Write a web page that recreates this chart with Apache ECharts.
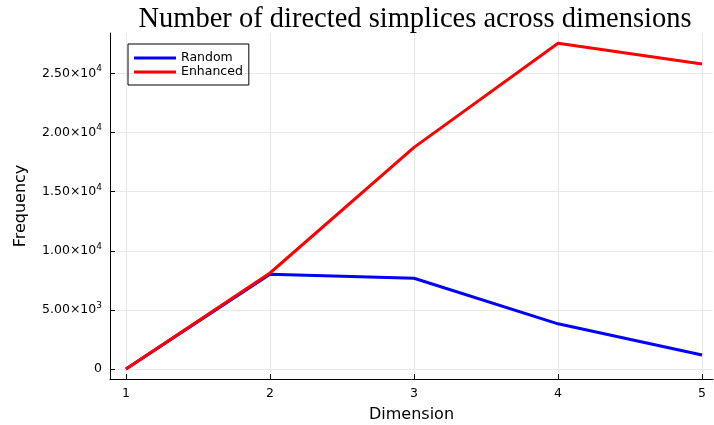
<!DOCTYPE html>
<html>
<head>
<meta charset="utf-8">
<script src="https://cdn.jsdelivr.net/npm/echarts@6/dist/echarts.min.js"></script>
<style>
html, body { margin: 0; padding: 0; background: #fff; }
#main { width: 714px; height: 425px; }
</style>
</head>
<body>
<div id="main"></div>
<script>
var dimensions = [1, 2, 3, 4, 5];
var randomCounts = [0, 8020, 7680, 3820, 1180];
var enhancedCounts = [0, 8120, 18750, 27570, 25800];
var yTicks = [0, 5000, 10000, 15000, 20000, 25000];

function pairs(xs, ys) {
    return xs.map(function (x, i) { return [x, ys[i]]; });
}

function yLabel(v) {
    if (v === 0) return '0';
    var exp = Math.floor(Math.log10(v));
    var mant = (v / Math.pow(10, exp)).toFixed(2);
    return mant + '×10{sup|' + exp + '}';
}

var myChart = echarts.init(document.getElementById('main'));
var option = {
    backgroundColor: '#fff',
    animation: false,
    title: {
        text: 'Number of directed simplices across dimensions',
        left: 410,
        textAlign: 'center',
        top: 0,
        textStyle: {
            fontFamily: 'Liberation Serif',
            fontWeight: 'normal',
            fontSize: 28.5,
            color: '#000'
        }
    },
    legend: {
        orient: 'vertical',
        left: 128,
        top: 44,
        padding: [7, 6, 6, 6],
        itemGap: 0,
        itemWidth: 42,
        itemHeight: 3,
        icon: 'rect',
        borderColor: '#000',
        borderWidth: 1,
        borderRadius: 0,
        textStyle: {
            fontFamily: 'DejaVu Sans',
            fontSize: 12.5,
            lineHeight: 14,
            color: '#000'
        },
        data: ['Random', 'Enhanced']
    },
    grid: {
        left: 110,
        right: 1,
        top: 33,
        bottom: 46,
        outerBoundsMode: 'none'
    },
    xAxis: {
        type: 'value',
        min: 0.889,
        max: 5.076,
        name: 'Dimension',
        nameLocation: 'middle',
        nameGap: 28,
        nameTextStyle: { fontFamily: 'DejaVu Sans', fontSize: 16, color: '#000' },
        axisLine: { show: true, onZero: false, lineStyle: { color: '#000', width: 1 } },
        axisTick: { show: true, inside: true, length: 5, customValues: dimensions, lineStyle: { color: '#000' } },
        axisLabel: {
            customValues: dimensions,
            margin: 8,
            fontFamily: 'DejaVu Sans',
            fontSize: 12.5,
            color: '#000'
        },
        splitLine: { show: true, lineStyle: { color: '#e8e8e8', width: 1 } }
    },
    yAxis: {
        type: 'value',
        min: -850,
        max: 28430,
        name: 'Frequency',
        nameLocation: 'middle',
        nameGap: 81,
        nameTextStyle: { fontFamily: 'DejaVu Sans', fontSize: 16, color: '#000' },
        axisLine: { show: true, onZero: false, lineStyle: { color: '#000', width: 1 } },
        axisTick: { show: true, inside: true, length: 5, customValues: yTicks, lineStyle: { color: '#000' } },
        axisLabel: {
            customValues: yTicks,
            margin: 8,
            formatter: yLabel,
            fontFamily: 'DejaVu Sans',
            fontSize: 12.5,
            color: '#000',
            rich: {
                sup: { fontFamily: 'DejaVu Sans', fontSize: 9, color: '#000', verticalAlign: 'bottom', padding: [0, 0, 9, 0] }
            }
        },
        splitLine: { show: true, lineStyle: { color: '#e8e8e8', width: 1 } }
    },
    series: [{
        name: 'Random',
        type: 'line',
        showSymbol: false,
        color: '#0000ff',
        lineStyle: { width: 3, color: '#0000ff' },
        data: pairs(dimensions, randomCounts)
    }, {
        name: 'Enhanced',
        type: 'line',
        showSymbol: false,
        color: '#ff0000',
        lineStyle: { width: 3, color: '#ff0000' },
        data: pairs(dimensions, enhancedCounts)
    }]
};

myChart.setOption(option);
window.onresize = myChart.resize;
</script>
</body>
</html>
